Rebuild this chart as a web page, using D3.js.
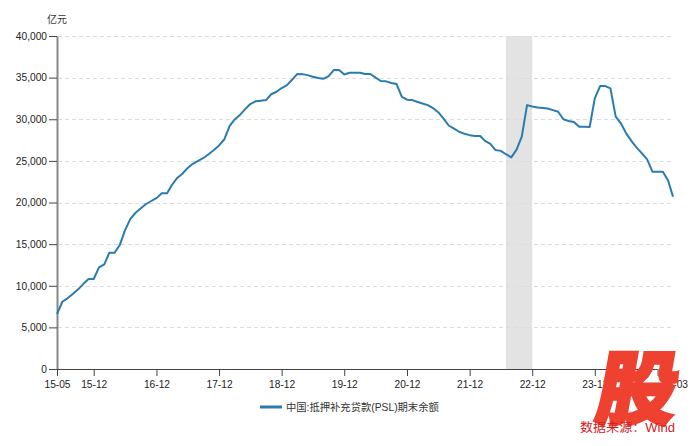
<!DOCTYPE html>
<html><head><meta charset="utf-8">
<script src="https://cdn.jsdelivr.net/npm/d3@7"></script>
<style>
html,body{margin:0;padding:0;background:#fff;}
svg{display:block;font-family:"Liberation Sans","Noto Sans CJK SC",Arial,sans-serif;}
</style></head>
<body>
<svg id="chart" width="700" height="446"></svg>
<script>
// ---- data ----
const startMonth = "2015-05";
const values = [
 6600, 8080, 8490, 9000, 9570, 10200, 10800, 10811,
 12210, 12570, 13970, 13970, 14890, 16690, 18010, 18770, 19300, 19820, 20180, 20526,
 21100, 21100, 22100, 22950, 23450, 24150, 24650, 25000, 25350, 25800, 26300, 26850,
 27600, 29200, 29950, 30500, 31190, 31830, 32150, 32220, 32300, 33000, 33300, 33750,
 34100, 34770, 35430, 35420, 35300, 35100, 34950, 34860, 35190, 35910, 35910, 35374,
 35590, 35600, 35590, 35430, 35430, 35000, 34590, 34550, 34350, 34230, 32700, 32350,
 32300, 32070, 31900, 31700, 31350, 30850, 30100, 29250, 28880, 28500, 28250, 28091,
 28000, 27980, 27400, 27050, 26300, 26200, 25800, 25420, 26350, 27900, 31700, 31525,
 31400, 31360, 31300, 31100, 30900, 30000, 29790, 29680, 29110, 29090, 29070, 32500,
 33990, 33990, 33710, 30310, 29510, 28300, 27400, 26600, 25900, 25180, 23700, 23700,
 23700, 22620, 20700
];
const xTickLabels = ["15-05","15-12","16-12","17-12","18-12","19-12","20-12","21-12","22-12","23-12","24-12"];
const lastLabel = "25-03";
const yTicks = [0,5000,10000,15000,20000,25000,30000,35000,40000];
const shadeRange = ["2022-07","2022-12"];
const seriesName = "中国:抵押补充贷款(PSL)期末余额";
const unitLabel = "亿元";
const sourceText = "数据来源：Wind";

// ---- build ----
const parse = d3.timeParse("%Y-%m");
const t0 = parse(startMonth);
const data = values.map((v,i)=>({date:d3.timeMonth.offset(t0,i), value:v}));
const parseTick = s => parse("20"+s);
const FS = 10.2;

const svg = d3.select("#chart");
const mLeft = 57, mRight = 673, mTop = 36, mBottom = 369;
const x = d3.scaleTime().domain([data[0].date, data[data.length-1].date]).range([mLeft,mRight]);
const y = d3.scaleLinear().domain([0,40000]).range([mBottom,mTop]);

// shaded band
svg.append("rect")
  .attr("x", x(parse(shadeRange[0])))
  .attr("width", x(parse(shadeRange[1])) - x(parse(shadeRange[0])))
  .attr("y", mTop).attr("height", mBottom-mTop)
  .attr("fill","#e3e3e3");

// gridlines
svg.append("g").selectAll("line").data(yTicks.filter(d=>d>0)).join("line")
  .attr("x1", mLeft+1).attr("x2", mRight)
  .attr("y1", d=>Math.round(y(d))+0.5).attr("y2", d=>Math.round(y(d))+0.5)
  .attr("stroke","#dcdcdc").attr("stroke-width",1).attr("stroke-dasharray","4,3");

// y axis
const yAxis = svg.append("g").attr("transform",`translate(${mLeft},0)`)
  .call(d3.axisLeft(y).tickValues(yTicks).tickFormat(d3.format(",")).tickSize(8).tickPadding(2).tickSizeOuter(0));
yAxis.select(".domain").attr("stroke","#888").attr("stroke-width",2);
yAxis.selectAll(".tick line").attr("stroke","#444");
yAxis.selectAll(".tick text").attr("font-size",FS).attr("fill","#222")
  .attr("font-family","Liberation Sans, Arial, sans-serif");

// x axis
const xTickDates = xTickLabels.map(parseTick);
const xAxis = svg.append("g").attr("transform",`translate(0,${mBottom})`)
  .call(d3.axisBottom(x).tickValues(xTickDates).tickFormat(d3.timeFormat("%y-%m")).tickSize(7).tickPadding(5).tickSizeOuter(0));
xAxis.select(".domain").remove();
xAxis.append("line").attr("x1",mLeft).attr("x2",x(xTickDates[xTickDates.length-1]))
  .attr("y1",0.5).attr("y2",0.5).attr("stroke","#444");
xAxis.selectAll(".tick line").attr("stroke","#444");
xAxis.selectAll(".tick text").attr("font-size",FS).attr("fill","#222")
  .attr("font-family","Liberation Sans, Arial, sans-serif")
  .filter((d,i)=>i===xTickDates.length-1).remove();
xAxis.append("text").attr("x", x(data[data.length-1].date)+2).attr("y",12).attr("dy","0.71em")
  .attr("text-anchor","middle").attr("font-size",FS).attr("fill","#222")
  .attr("font-family","Liberation Sans, Arial, sans-serif").text(lastLabel);

// unit label
svg.append("text").attr("x",57).attr("y",23).attr("text-anchor","middle")
  .attr("font-size",10).attr("fill","#333")
  .attr("font-family","Noto Sans CJK SC, sans-serif").text(unitLabel);

// line
const line = d3.line().x(d=>x(d.date)).y(d=>y(d.value));
svg.append("path").datum(data).attr("d",line)
  .attr("fill","none").attr("stroke","#2a7bb0").attr("stroke-width",2).attr("stroke-linejoin","round");

// legend
svg.append("line").attr("x1",260).attr("x2",282).attr("y1",407).attr("y2",407)
  .attr("stroke","#2a7bb0").attr("stroke-width",3);
svg.append("text").attr("x",286).attr("y",411).attr("font-size",10.3).attr("fill","#333")
  .attr("font-family","Liberation Sans, Noto Sans CJK SC, sans-serif").text(seriesName);

// watermark
svg.append("text").attr("x",594).attr("y",418)
  .attr("transform","skewX(-10) translate(73,0)")
  .attr("font-size",80).attr("font-weight",900).attr("fill","#ee4130")
  .attr("stroke","#ee4130").attr("stroke-width",3).attr("stroke-linejoin","miter")
  .attr("font-family","Noto Sans CJK SC, sans-serif").text("股");
svg.append("text").attr("x",580).attr("y",432).attr("font-size",12).attr("fill","#d0201c")
  .attr("textLength",95).attr("lengthAdjust","spacingAndGlyphs")
  .attr("font-family","Liberation Sans, Noto Sans CJK SC, sans-serif").text(sourceText);
</script>
</body></html>
